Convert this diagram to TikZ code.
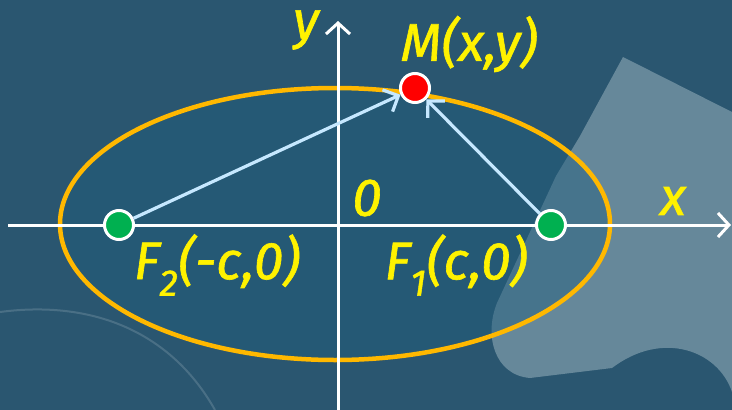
\documentclass[tikz,border=0pt]{standalone}
\usepackage{fontspec}
\setmainfont{Fira Sans}
\newfontfamily\lblfont{Fira Sans}[ItalicFeatures={FakeBold=1.2}]
\usetikzlibrary{arrows.meta,shapes,positioning}

\definecolor{bgblue}{HTML}{2A5670}
\definecolor{inblue}{HTML}{215D7C}
\definecolor{puzzle}{HTML}{66889A}
\definecolor{orbit}{HTML}{FFB800}
\definecolor{vecblue}{HTML}{C6E8FF}
\definecolor{focusgreen}{HTML}{00B050}

\tikzset{
  focus/.style={circle, fill=focusgreen, draw=white, line width=3pt,
    minimum size=29pt, inner sep=0pt},
  point/.style={focus, fill=red},
  lbl/.style={text=yellow, inner sep=0pt,
    font=\fontsize{53}{56}\lblfont\itshape},
  axisline/.style={draw=white, line width=3pt,
    -{Straight Barb[length=11pt,width=24pt]}},
  focal/.style={draw=vecblue, line width=3.2pt,
    -{Straight Barb[length=12pt,width=24pt]}}
}

\begin{document}
\begin{tikzpicture}[x=1pt,y=-1pt]
\useasboundingbox (0,0) rectangle (732,410);
\fill [bgblue] (0,0) rectangle (732,410);
% puzzle piece in the background
\fill [puzzle] (623,57) -- (732,112) -- (732,392)
    .. controls (718,350) and (662,330) .. (612,368)
    -- (530,378) .. controls (494,375) and (484,335) .. (497,303)
    -- (556,176) -- (580,136) -- cycle;
\draw [white, opacity=0.15, line width=2pt] (0,312) .. controls (90,300) and (170,330) .. (215,410);

% ellipse
\fill [inblue, opacity=0.45] (335,224) ellipse (275 and 136);
\draw [orbit, line width=4.5pt] (335,224) ellipse (275 and 136);

% axes
\coordinate (xs) at (8,225);
\coordinate (xe) at (731,225);
\coordinate (ys) at (338,410);
\coordinate (ye) at (338,21);
\draw [axisline] (xs) -- (xe);
\draw [axisline] (ys) -- (ye);

% foci and point
\node [focus] (F2) at (119,225) {};
\node [focus] (F1) at (551,225) {};
\node [point] (M) at (415,88) {};
\draw [focal] (F2) -- (M);
\draw [focal] (F1) -- (M);

% labels
\node [lbl] (ylab) at (306,30) {y};
\node [lbl] (xlab) at (673,201) {x};
\node [lbl] (olab) at (367,198) {0};
\node [lbl] (mlab) at (469,44) {M(x,y)};
\node [lbl] (f2lab) at (217,265) {F\textsubscript{2}(-c,0)};
\node [lbl] (f1lab) at (456,265) {F\textsubscript{1}(c,0)};
\end{tikzpicture}
\end{document}
